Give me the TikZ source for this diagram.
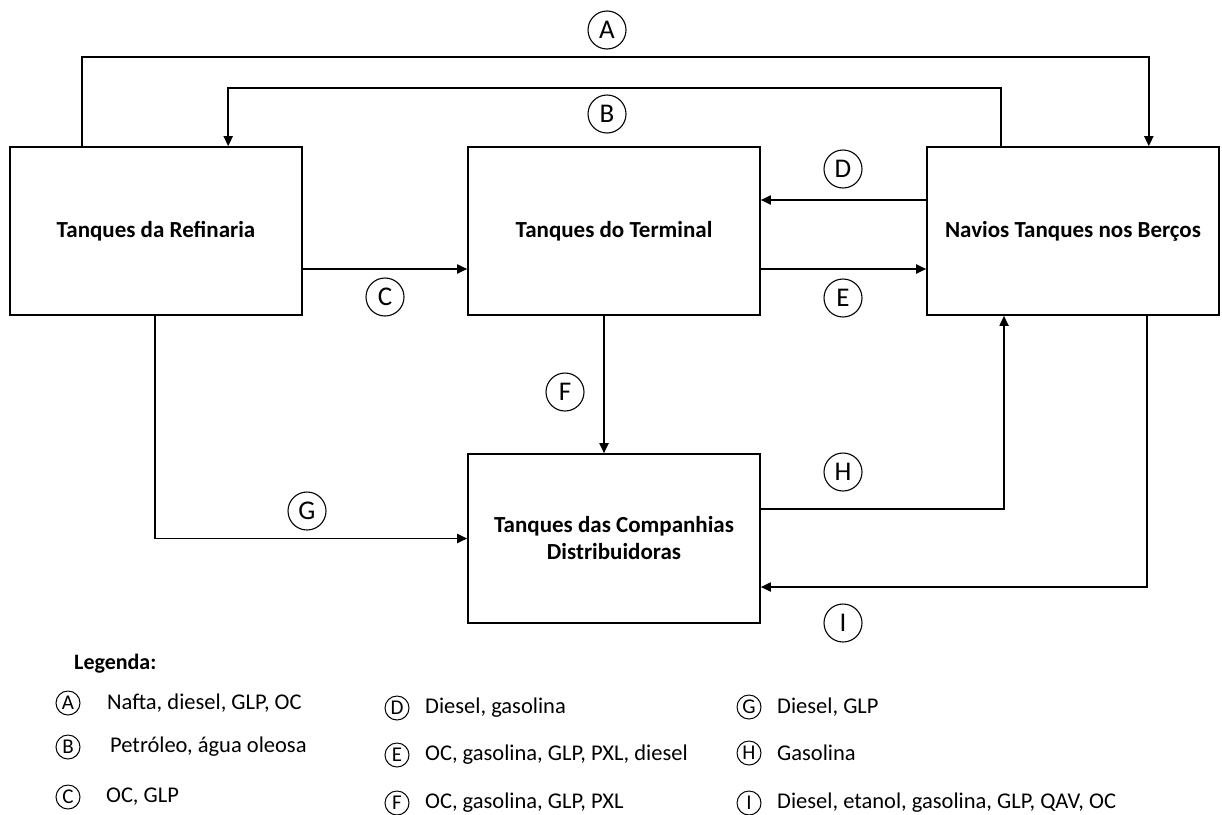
\documentclass[tikz,border=0pt]{standalone}
\usepackage{fontspec}
\setmainfont{Carlito}
\usetikzlibrary{arrows.meta}
\begin{document}
\begin{tikzpicture}[x=1pt,y=-1pt,
  tank/.style={draw,line width=1.6pt,minimum width=292pt,minimum height=168pt,
    inner sep=0pt,align=center,font=\fontsize{23}{27}\selectfont\bfseries},
  flow/.style={line width=1.8pt,-{Triangle[length=10pt,width=9pt]}},
  tag/.style={draw,circle,line width=1.1pt,minimum size=38pt,inner sep=0pt,
    font=\fontsize{27}{27}\selectfont},
  ltag/.style={draw,circle,line width=1pt,minimum size=24pt,inner sep=0pt,
    font=\fontsize{21}{21}\selectfont},
  ltext/.style={anchor=west,inner sep=0pt,font=\fontsize{22.5}{26}\selectfont}]
\useasboundingbox (0,0) rectangle (1222,814);

% storage boxes
\node[tank] (ref) at (156,231) {Tanques da Refinaria};
\node[tank] (ter) at (614,231) {Tanques do Terminal};
\node[tank] (nav) at (1073,231) {Navios Tanques nos Berços};
\node[tank,minimum height=169pt] (comp) at (614,538.5) {Tanques das Companhias\\Distribuidoras};

% product flows
\draw[flow] ([xshift=73pt]ref.north west) -- ++(0,-89) -| ([xshift=-71pt]nav.north east);
\draw[flow] ([xshift=75pt]nav.north west) -- ++(0,-58) -| ([xshift=219pt]ref.north west);
\draw[flow] ([yshift=-38pt]ref.east) -- ([yshift=-38pt]ter.west);
\draw[flow] ([yshift=31pt]nav.west) -- ([yshift=31pt]ter.east);
\draw[flow] ([yshift=-38pt]ter.east) -- ([yshift=-38pt]nav.west);
\draw[flow] ([xshift=-10pt]ter.south) -- ([xshift=-10pt]comp.north);
\draw[flow] ([xshift=-1pt]ref.south) |- (comp.west);
\draw[flow] ([yshift=29.5pt]comp.east) -| ([xshift=-69pt]nav.south);
\draw[flow] ([xshift=74pt]nav.south) |- ([yshift=-48.5pt]comp.east);

% flow tags
\node[tag] (tA) at (607,30) {A};
\node[tag] (tB) at (607,114) {B};
\node[tag] (tC) at (385,297) {C};
\node[tag] (tD) at (843,169) {D};
\node[tag] (tE) at (843,298) {E};
\node[tag] (tF) at (565,392) {F};
\node[tag] (tG) at (307,511) {G};
\node[tag] (tH) at (843,472) {H};
\node[tag] (tI) at (843,623) {I};

% legend
\node[anchor=west,inner sep=0pt,font=\fontsize{22}{22}\selectfont\bfseries] (leg) at (74,664) {Legenda:};
\node[ltag] (lA) at (68,703) {A};
\node[ltext] (xA) at (107,703) {Nafta, diesel, GLP, OC};
\node[ltag] (lB) at (68,747) {B};
\node[ltext] (xB) at (110,747) {Petróleo, água oleosa};
\node[ltag] (lC) at (68,797) {C};
\node[ltext] (xC) at (106,797) {OC, GLP};
\node[ltag] (lD) at (397,708) {D};
\node[ltext] (xD) at (425,708) {Diesel, gasolina};
\node[ltag] (lE) at (397,755) {E};
\node[ltext] (xE) at (425,755) {OC, gasolina, GLP, PXL, diesel};
\node[ltag] (lF) at (397,803) {F};
\node[ltext] (xF) at (425,803) {OC, gasolina, GLP, PXL};
\node[ltag] (lG) at (749,707) {G};
\node[ltext] (xG) at (777,707) {Diesel, GLP};
\node[ltag] (lH) at (749,753) {H};
\node[ltext] (xH) at (777,753) {Gasolina};
\node[ltag] (lI) at (749,803) {I};
\node[ltext] (xI) at (777,803) {Diesel, etanol, gasolina, GLP, QAV, OC};
\end{tikzpicture}
\end{document}
